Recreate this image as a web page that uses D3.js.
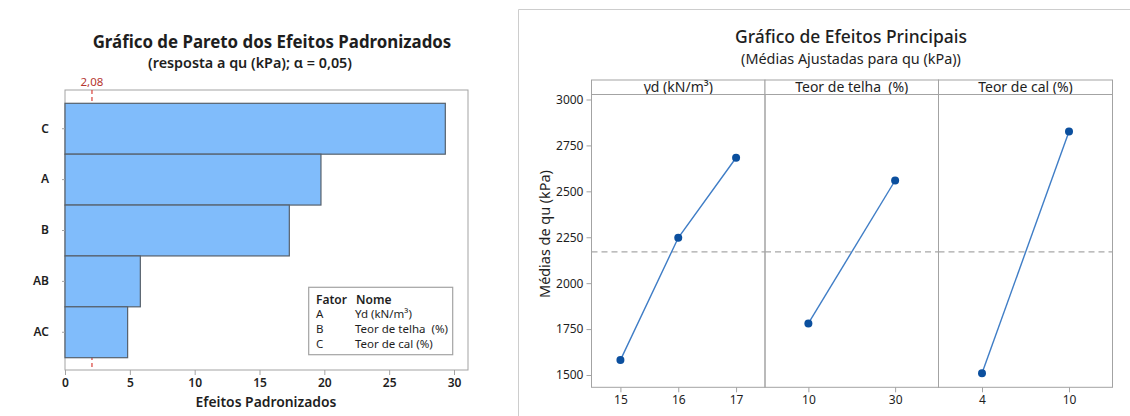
<!DOCTYPE html>
<html>
<head>
<meta charset="utf-8">
<script src="https://cdn.jsdelivr.net/npm/d3@7"></script>
<style>
  html, body { margin: 0; padding: 0; background: #fff; }
  svg { display: block; font-family: "Noto Sans", "Open Sans", sans-serif; }
  text { white-space: pre; }
</style>
</head>
<body>
<svg id="chart" width="1130" height="416"></svg>
<script>
// Pareto chart of standardized effects
const paretoTerms = ["C", "A", "B", "AB", "AC"];
const paretoEffects = [29.33, 19.74, 17.30, 5.81, 4.83];
const criticalEffect = 2.08;
const paretoTicks = [0, 5, 10, 15, 20, 25, 30];
const legendFactors = ["A", "B", "C"];
const legendNames = ["Yd (kN/m³)", "Teor de telha  (%)", "Teor de cal (%)"];

// Main effects plot (adjusted means of qu)
const panelTitles = ["γd (kN/m³)", "Teor de telha  (%)", "Teor de cal (%)"];
const ydLevels = [15, 16, 17];
const ydMeans = [1581, 2247, 2683];
const telhaLevels = [10, 30];
const telhaMeans = [1781, 2559];
const calLevels = [4, 10];
const calMeans = [1509, 2826];
const meanTicks = [1500, 1750, 2000, 2250, 2500, 2750, 3000];

const svg = d3.select("#chart");
const frameColor = "#a3a3a3";
const textColor = "#1e1e1e";
const intFmt = d3.format("d");

// shrink/grow a text element's font so that it spans a given width
function fitWidth(sel, w) {
  const node = sel.node();
  const fs = parseFloat(sel.attr("font-size"));
  const len = node.getComputedTextLength();
  if (len > 0) sel.attr("font-size", (fs * w / len).toFixed(2));
  return sel;
}

// ---------------- Pareto chart ----------------
const pL = 65, pR = 468, pT = 90, pB = 370;
const px = d3.scaleLinear().domain([0, 30]).range([pL, pL + 389]);
const py = d3.scaleBand().domain(paretoTerms).range([103.3, 357.7]).paddingInner(0);

const pareto = svg.append("g");

pareto.append("text")
  .attr("x", 272).attr("y", 48).attr("text-anchor", "middle")
  .attr("font-size", 17).attr("font-weight", 700).attr("fill", textColor)
  .text("Gráfico de Pareto dos Efeitos Padronizados")
  .call(fitWidth, 359);

pareto.append("text")
  .attr("x", 250).attr("y", 67.5).attr("text-anchor", "middle")
  .attr("font-size", 13).attr("font-weight", 600).attr("fill", textColor)
  .text("(resposta a qu (kPa); α = 0,05)")
  .call(fitWidth, 204);

pareto.append("rect")
  .attr("x", pL).attr("y", pT).attr("width", pR - pL).attr("height", pB - pT)
  .attr("fill", "#fff").attr("stroke", frameColor).attr("stroke-width", 1);

// critical value reference line
pareto.append("line")
  .attr("x1", px(criticalEffect)).attr("x2", px(criticalEffect))
  .attr("y1", pT).attr("y2", pB)
  .attr("stroke", "#d8413a").attr("stroke-width", 1.2)
  .attr("stroke-dasharray", "4,3");

pareto.append("text")
  .attr("x", px(criticalEffect)).attr("y", 86).attr("text-anchor", "middle")
  .attr("font-size", 11.5).attr("fill", "#b5362f")
  .text(String(criticalEffect).replace(".", ","));

// bars
pareto.selectAll("rect.bar")
  .data(paretoTerms.map((t, i) => ({ term: t, value: paretoEffects[i] })))
  .join("rect")
  .attr("class", "bar")
  .attr("x", px(0))
  .attr("y", d => py(d.term))
  .attr("width", d => px(d.value) - px(0))
  .attr("height", py.bandwidth())
  .attr("fill", "#80bcfb")
  .attr("stroke", "#56606b")
  .attr("stroke-width", 1.2);

// x axis
const pxAxis = pareto.append("g")
  .attr("transform", `translate(0,${pB})`)
  .call(d3.axisBottom(px).tickValues(paretoTicks).tickFormat(intFmt)
    .tickSize(5).tickPadding(3).tickSizeOuter(0));
pxAxis.select(".domain").remove();
pxAxis.selectAll("line").attr("stroke", frameColor);
pxAxis.selectAll("text").attr("font-size", 12).attr("font-weight", 600)
  .attr("fill", textColor).attr("font-family", "Noto Sans, sans-serif");

// y axis
const pyAxis = pareto.append("g")
  .attr("transform", `translate(${pL},0)`)
  .call(d3.axisLeft(py).tickSize(3).tickPadding(13).tickSizeOuter(0));
pyAxis.select(".domain").remove();
pyAxis.selectAll("line").attr("stroke", frameColor);
pyAxis.selectAll("text").attr("font-size", 12).attr("font-weight", 600)
  .attr("fill", textColor).attr("font-family", "Noto Sans, sans-serif");

pareto.append("text")
  .attr("x", 266).attr("y", 407).attr("text-anchor", "middle")
  .attr("font-size", 14).attr("font-weight", 600).attr("fill", textColor)
  .text("Efeitos Padronizados")
  .call(fitWidth, 141);

// legend
const lg = pareto.append("g");
lg.append("rect")
  .attr("x", 308.7).attr("y", 287.3).attr("width", 144).attr("height", 67.4)
  .attr("fill", "#fff").attr("stroke", frameColor).attr("stroke-width", 1.2);
lg.append("text").attr("x", 316).attr("y", 303.5)
  .attr("font-size", 12).attr("font-weight", 600).attr("fill", textColor).text("Fator");
lg.append("text").attr("x", 356).attr("y", 303.5)
  .attr("font-size", 12).attr("font-weight", 600).attr("fill", textColor).text("Nome");
legendFactors.forEach((f, i) => {
  const yy = 318 + i * 15;
  lg.append("text").attr("x", 316).attr("y", yy)
    .attr("font-size", 11.5).attr("fill", textColor).text(f);
  lg.append("text").attr("x", 355).attr("y", yy)
    .attr("font-size", 11.5).attr("fill", textColor).text(legendNames[i]);
});

// ---------------- Main effects plot ----------------
const me = svg.append("g");

// outer border of the right-hand graph
me.append("path")
  .attr("d", "M518.5,416 V9.5 H1130")
  .attr("fill", "none").attr("stroke", "#cdcdcd").attr("stroke-width", 1);

me.append("text")
  .attr("x", 851).attr("y", 43).attr("text-anchor", "middle")
  .attr("font-size", 17).attr("font-weight", 500).attr("fill", textColor)
  .text("Gráfico de Efeitos Principais")
  .call(fitWidth, 232);

me.append("text")
  .attr("x", 851).attr("y", 64).attr("text-anchor", "middle")
  .attr("font-size", 13).attr("fill", textColor)
  .text("(Médias Ajustadas para qu (kPa))")
  .call(fitWidth, 220);

const edges = [591.5, 765, 938.5, 1112.5];
const stripTop = 80, plotTop = 94.5, plotBottom = 387.3;
const my = d3.scaleLinear().domain([1500, 3000]).range([375, 99.5]);

const panels = [
  { levels: ydLevels, means: ydMeans, domain: [14.5, 17.5] },
  { levels: telhaLevels, means: telhaMeans, domain: [0, 40] },
  { levels: calLevels, means: calMeans, domain: [1, 13] }
];

const grandMean = d3.mean(ydMeans);

panels.forEach((p, i) => {
  const x0 = edges[i], x1 = edges[i + 1];
  const sx = d3.scaleLinear().domain(p.domain).range([x0, x1]);
  const g = me.append("g");

  // strip header
  g.append("rect").attr("x", x0).attr("y", stripTop)
    .attr("width", x1 - x0).attr("height", plotTop - stripTop)
    .attr("fill", "#fff").attr("stroke", frameColor);
  g.append("text").attr("x", (x0 + x1) / 2).attr("y", 92)
    .attr("text-anchor", "middle").attr("font-size", 14)
    .attr("fill", textColor).text(panelTitles[i]);

  // panel frame
  g.append("rect").attr("x", x0).attr("y", plotTop)
    .attr("width", x1 - x0).attr("height", plotBottom - plotTop)
    .attr("fill", "none").attr("stroke", frameColor);

  // grand mean reference
  g.append("line")
    .attr("x1", x0).attr("x2", x1)
    .attr("y1", my(grandMean)).attr("y2", my(grandMean))
    .attr("stroke", "#a8a8a8").attr("stroke-width", 1.2)
    .attr("stroke-dasharray", "6,4");

  // x axis
  const ax = g.append("g")
    .attr("transform", `translate(0,${plotBottom})`)
    .call(d3.axisBottom(sx).tickValues(p.levels).tickFormat(intFmt)
      .tickSize(5).tickPadding(3).tickSizeOuter(0));
  ax.select(".domain").remove();
  ax.selectAll("line").attr("stroke", frameColor);
  ax.selectAll("text").attr("font-size", 12).attr("fill", textColor)
    .attr("font-family", "Noto Sans, sans-serif");

  const pts = p.levels.map((l, k) => [sx(l), my(p.means[k])]);
  g.append("path")
    .attr("d", d3.line()(pts))
    .attr("fill", "none").attr("stroke", "#3f7dc6").attr("stroke-width", 1.4);
  g.selectAll("circle").data(pts).join("circle")
    .attr("cx", d => d[0]).attr("cy", d => d[1]).attr("r", 4)
    .attr("fill", "#0b4f9e");
});

// y axis
const ay = me.append("g")
  .attr("transform", `translate(${edges[0]},0)`)
  .call(d3.axisLeft(my).tickValues(meanTicks).tickFormat(intFmt)
    .tickSize(5).tickPadding(3).tickSizeOuter(0));
ay.select(".domain").remove();
ay.selectAll("line").attr("stroke", frameColor);
ay.selectAll("text").attr("font-size", 12).attr("fill", textColor)
  .attr("font-family", "Noto Sans, sans-serif");

me.append("text")
  .attr("transform", "translate(550,234) rotate(-90)")
  .attr("text-anchor", "middle").attr("font-size", 14.5).attr("fill", textColor)
  .text("Médias de qu (kPa)")
  .call(fitWidth, 128);
</script>
</body>
</html>
